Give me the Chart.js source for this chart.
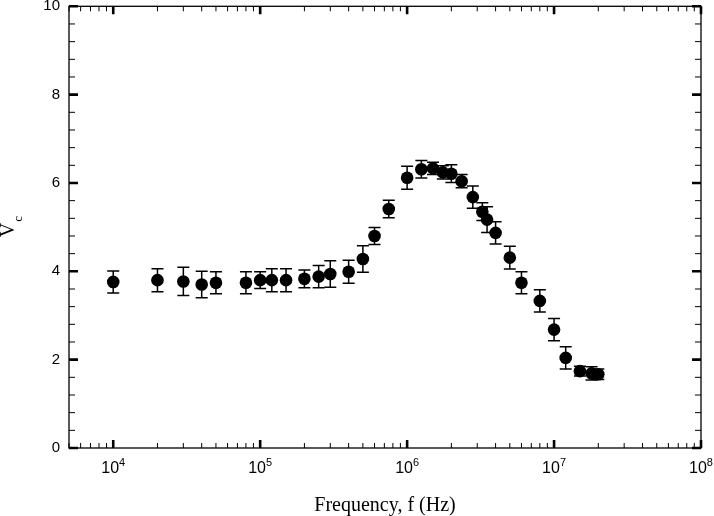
<!DOCTYPE html>
<html>
<head>
<meta charset="utf-8">
<script src="https://cdn.jsdelivr.net/npm/chart.js@4"></script>
<style>
html,body{margin:0;padding:0;background:#fff;}
canvas{display:block;}
</style>
</head>
<body>
<canvas id="c" width="714" height="516"></canvas>
<script>
const freq = [1e4,2e4,3e4,4e4,5e4,8e4,1e5,1.2e5,1.5e5,2e5,2.5e5,3e5,4e5,5e5,6e5,7.5e5,1e6,1.25e6,1.5e6,1.75e6,2e6,2.35e6,2.8e6,3.25e6,3.5e6,4e6,5e6,6e6,8e6,1e7,1.2e7,1.5e7,1.8e7,2e7];
const vc = [3.76,3.80,3.77,3.70,3.74,3.74,3.80,3.80,3.80,3.83,3.88,3.94,3.99,4.28,4.80,5.41,6.12,6.31,6.33,6.24,6.21,6.04,5.68,5.35,5.17,4.87,4.31,3.74,3.33,2.68,2.04,1.74,1.69,1.67];
const err = [0.25,0.26,0.32,0.30,0.25,0.25,0.19,0.26,0.26,0.20,0.25,0.30,0.26,0.30,0.19,0.20,0.26,0.20,0.14,0.15,0.20,0.15,0.25,0.20,0.29,0.25,0.26,0.25,0.25,0.25,0.25,0.11,0.15,0.12];
const xMin = 5000, xMax = 1e8;
const xMajorExponents = [4, 5, 6, 7, 8];
const yMin = 0, yMax = 10, yStep = 2, yMinorStep = 0.4;
const xTitle = 'Frequency, f (Hz)';
const yTitleMain = 'V', yTitleSub = 'c';

const points = freq.map((f,i)=>({x:f, y:vc[i]}));

const framePlugin = {
  id: 'frame',
  beforeDatasetsDraw(chart) {
    const ctx = chart.ctx, xs = chart.scales.x, ys = chart.scales.y;
    ctx.save();
    ctx.strokeStyle = '#000';
    ctx.lineWidth = 1.5;
    const cap = 6;
    freq.forEach((f,i)=>{
      const px = xs.getPixelForValue(f);
      const top = ys.getPixelForValue(vc[i] + err[i]);
      const bot = ys.getPixelForValue(vc[i] - err[i]);
      ctx.beginPath();
      ctx.moveTo(px, top); ctx.lineTo(px, bot);
      ctx.moveTo(px-cap, top); ctx.lineTo(px+cap, top);
      ctx.moveTo(px-cap, bot); ctx.lineTo(px+cap, bot);
      ctx.stroke();
    });
    ctx.restore();
  },
  afterDraw(chart) {
    const ctx = chart.ctx, a = chart.chartArea, xs = chart.scales.x, ys = chart.scales.y;
    ctx.save();
    ctx.strokeStyle = '#000';
    ctx.lineWidth = 1.3;
    ctx.strokeRect(a.left, a.top, a.right - a.left, a.bottom - a.top);
    // x ticks
    for (let e = Math.floor(Math.log10(xMin)); e <= Math.log10(xMax); e++) {
      for (let m = 1; m <= 9; m++) {
        const v = m * Math.pow(10, e);
        if (v < xMin - 1e-9 || v > xMax * (1 + 1e-9)) continue;
        const px = xs.getPixelForValue(v);
        const major = m === 1;
        ctx.lineWidth = major ? 2.6 : 1;
        const len = major ? 8 : 5;
        ctx.beginPath();
        ctx.moveTo(px, a.bottom); ctx.lineTo(px, a.bottom - len);
        ctx.moveTo(px, a.top); ctx.lineTo(px, a.top + len);
        ctx.stroke();
      }
    }
    // y ticks
    for (let k = 0; k <= Math.round((yMax - yMin) / yMinorStep); k++) {
      const v = yMin + k * yMinorStep;
      const py = ys.getPixelForValue(v);
      const major = Math.abs(v / yStep - Math.round(v / yStep)) < 1e-6;
      ctx.lineWidth = major ? 2.6 : 1;
      const len = major ? 9 : 6;
      ctx.beginPath();
      ctx.moveTo(a.left, py); ctx.lineTo(a.left + len, py);
      ctx.moveTo(a.right, py); ctx.lineTo(a.right - len, py);
      ctx.stroke();
    }
    // x tick labels: 10^n with superscript exponent
    ctx.fillStyle = '#000';
    ctx.textBaseline = 'alphabetic';
    ctx.textAlign = 'left';
    xMajorExponents.forEach(e => {
      const px = xs.getPixelForValue(Math.pow(10, e));
      ctx.font = '16px "Liberation Sans"';
      const wb = ctx.measureText('10').width;
      ctx.font = '11px "Liberation Sans"';
      const we = ctx.measureText(String(e)).width;
      const x0 = px - (wb + we) / 2;
      ctx.font = '16px "Liberation Sans"';
      ctx.fillText('10', x0, a.bottom + 25);
      ctx.font = '11px "Liberation Sans"';
      ctx.fillText(String(e), x0 + wb, a.bottom + 18);
    });
    // y title
    ctx.translate(14, 230);
    ctx.rotate(-Math.PI / 2);
    ctx.font = '20px "Liberation Serif"';
    const w = ctx.measureText(yTitleMain).width;
    ctx.fillText(yTitleMain, -w / 2, 0);
    ctx.font = '13px "Liberation Serif"';
    ctx.fillText(yTitleSub, w / 2 + 1, 8);
    ctx.restore();
  }
};

new Chart(document.getElementById('c'), {
  type: 'scatter',
  data: {
    datasets: [{
      data: points,
      backgroundColor: '#000',
      borderColor: '#000',
      pointRadius: 6.3,
      pointHoverRadius: 6.3,
      borderWidth: 0
    }]
  },
  options: {
    responsive: false,
    animation: false,
    events: [],
    layout: { padding: { top: 6, right: 13, left: 0, bottom: 0 } },
    plugins: { legend: { display: false }, tooltip: { enabled: false } },
    scales: {
      x: {
        type: 'logarithmic',
        min: xMin, max: xMax,
        grid: { display: false, drawTicks: false },
        border: { display: false },
        ticks: { display: false },
        title: {
          display: true, text: xTitle, color: '#000',
          font: { family: '"Liberation Serif"', size: 20, lineHeight: 1 },
          padding: { top: 0, bottom: 0 }
        },
        afterFit: s => { s.height = 68; s.paddingLeft = 0; s.paddingRight = 0; }
      },
      y: {
        min: yMin, max: yMax,
        grid: { display: false, drawTicks: false },
        border: { display: false },
        ticks: {
          stepSize: yStep, color: '#000',
          font: { family: '"Liberation Sans"', size: 15 },
          padding: 9
        },
        afterFit: s => { s.width = 69; s.paddingTop = 0; s.paddingBottom = 0; }
      }
    }
  },
  plugins: [framePlugin]
});
</script>
</body>
</html>
